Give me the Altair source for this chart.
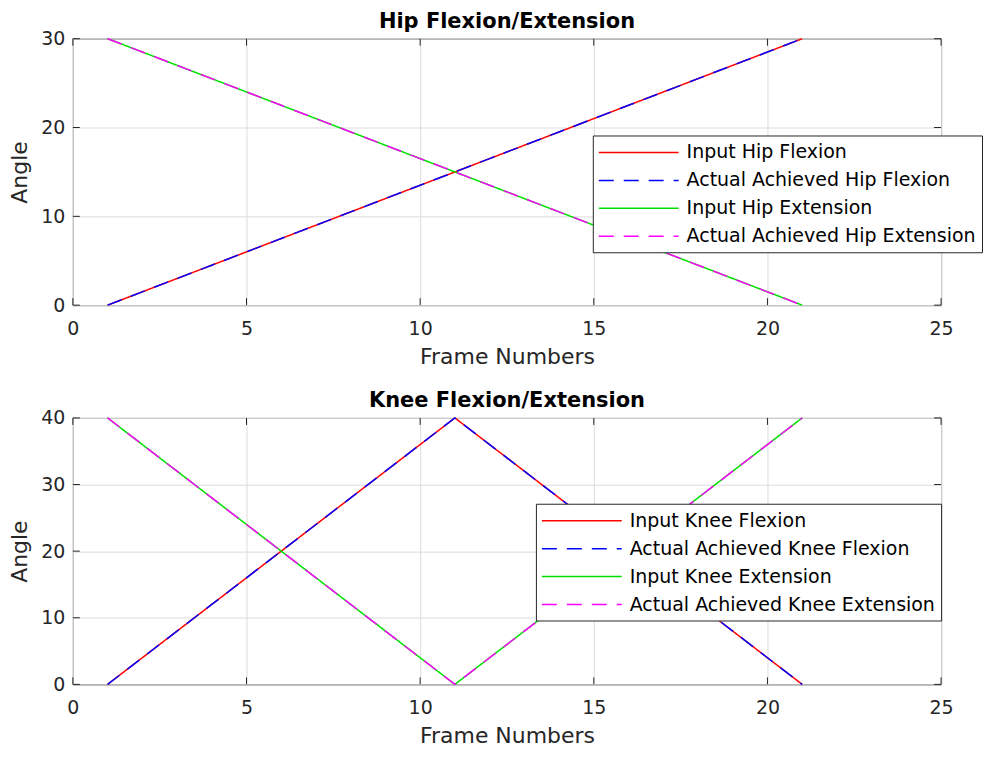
import altair as alt
import pandas as pd

# ---------------- data ----------------
frames = [1, 2, 3, 4, 5, 6, 7, 8, 9, 10, 11, 12, 13, 14, 15, 16, 17, 18, 19, 20, 21]

hip_flex_input = [0, 1.5, 3, 4.5, 6, 7.5, 9, 10.5, 12, 13.5, 15, 16.5, 18, 19.5, 21, 22.5, 24, 25.5, 27, 28.5, 30]
hip_flex_actual = [0, 1.5, 3, 4.5, 6, 7.5, 9, 10.5, 12, 13.5, 15, 16.5, 18, 19.5, 21, 22.5, 24, 25.5, 27, 28.5, 30]
hip_ext_input = [30, 28.5, 27, 25.5, 24, 22.5, 21, 19.5, 18, 16.5, 15, 13.5, 12, 10.5, 9, 7.5, 6, 4.5, 3, 1.5, 0]
hip_ext_actual = [30, 28.5, 27, 25.5, 24, 22.5, 21, 19.5, 18, 16.5, 15, 13.5, 12, 10.5, 9, 7.5, 6, 4.5, 3, 1.5, 0]

knee_flex_input = [0, 4, 8, 12, 16, 20, 24, 28, 32, 36, 40, 36, 32, 28, 24, 20, 16, 12, 8, 4, 0]
knee_flex_actual = [0, 4, 8, 12, 16, 20, 24, 28, 32, 36, 40, 36, 32, 28, 24, 20, 16, 12, 8, 4, 0]
knee_ext_input = [40, 36, 32, 28, 24, 20, 16, 12, 8, 4, 0, 4, 8, 12, 16, 20, 24, 28, 32, 36, 40]
knee_ext_actual = [40, 36, 32, 28, 24, 20, 16, 12, 8, 4, 0, 4, 8, 12, 16, 20, 24, 28, 32, 36, 40]

hip_labels = ["Input Hip Flexion", "Actual Achieved Hip Flexion",
              "Input Hip Extension", "Actual Achieved Hip Extension"]
knee_labels = ["Input Knee Flexion", "Actual Achieved Knee Flexion",
               "Input Knee Extension", "Actual Achieved Knee Extension"]

x_ticks = [0, 5, 10, 15, 20, 25]
hip_y_ticks = [0, 10, 20, 30]
knee_y_ticks = [0, 10, 20, 30, 40]

series_colors = ["#ff0000", "#0000ff", "#00e000", "#ff00ff"]
series_dashes = [[1, 0], [15, 10], [1, 0], [15, 10]]

FONT = "DejaVu Sans"
AXIS_COL = "#262626"
W, H = 870, 267


def long_table(labels, series):
    rows = []
    for lab, vals in zip(labels, series):
        for f, v in zip(frames, vals):
            rows.append({"frame": f, "angle": v, "series": lab})
    return pd.DataFrame(rows)


def panel(labels, series, title, ymax, yticks, lx, ly):
    df = long_table(labels, series)
    xenc = alt.X("frame:Q", scale=alt.Scale(domain=[0, 25], nice=False, zero=False),
                 axis=alt.Axis(values=x_ticks, title="Frame Numbers"))
    yenc = alt.Y("angle:Q", scale=alt.Scale(domain=[0, ymax], nice=False),
                 axis=alt.Axis(values=yticks, title="Angle"))
    leg = alt.Legend(orient="none", legendX=lx, legendY=ly)
    lines = alt.Chart(df).mark_line(strokeWidth=1.5).encode(
        x=xenc, y=yenc,
        color=alt.Color("series:N", scale=alt.Scale(domain=labels, range=series_colors),
                        legend=leg, title=None),
        strokeDash=alt.StrokeDash("series:N", scale=alt.Scale(domain=labels, range=series_dashes),
                                  legend=leg, title=None),
    )
    xt = pd.DataFrame({"frame": x_ticks})
    yt = pd.DataFrame({"angle": yticks})
    xb = alt.Chart(xt).mark_rule(color=AXIS_COL, strokeWidth=1).encode(
        x=xenc, y=alt.value(H), y2=alt.value(H - 7))
    xtop = alt.Chart(xt).mark_rule(color=AXIS_COL, strokeWidth=1).encode(
        x=xenc, y=alt.value(0), y2=alt.value(7))
    yl = alt.Chart(yt).mark_rule(color=AXIS_COL, strokeWidth=1).encode(
        y=yenc, x=alt.value(0), x2=alt.value(7))
    yr = alt.Chart(yt).mark_rule(color=AXIS_COL, strokeWidth=1).encode(
        y=yenc, x=alt.value(W - 7), x2=alt.value(W))
    return alt.layer(lines, xb, xtop, yl, yr).properties(
        width=W, height=H,
        title=alt.TitleParams(title, anchor="middle", offset=-2, fontSize=21, frame="group",
                              font=FONT, fontWeight="bold", color="#000000"),
    )


top = panel(hip_labels, [hip_flex_input, hip_flex_actual, hip_ext_input, hip_ext_actual],
            "Hip Flexion/Extension", 30, hip_y_ticks, 521, 97)
bottom = panel(knee_labels, [knee_flex_input, knee_flex_actual, knee_ext_input, knee_ext_actual],
               "Knee Flexion/Extension", 40, knee_y_ticks, 464, 86)

chart = alt.vconcat(top, bottom, spacing=21).resolve_scale(
    color="independent", strokeDash="independent"
).properties(
    padding={"left": 0, "top": 1, "right": 0, "bottom": 0}
).configure_view(
    stroke=AXIS_COL, strokeWidth=1
).configure_axis(
    domain=False, ticks=False, tickSize=0, labelFlush=False,
    grid=True, gridColor="#dcdcdc", gridWidth=1,
    labelFont=FONT, labelFontSize=19, labelColor=AXIS_COL, labelPadding=14,
    titleFont=FONT, titleFontSize=22, titleFontWeight="normal", titleColor=AXIS_COL,
    titlePadding=8,
).configure_axisY(
    titlePadding=9, labelPadding=8
).configure_legend(
    fillColor="#ffffff", strokeColor=AXIS_COL, padding=6,
    symbolType="M-4,0L4,0", symbolSize=400, symbolStrokeWidth=1.5,
    symbolOffset=29, labelOffset=37,
    labelFont=FONT, labelFontSize=19, labelColor="#000000", labelLimit=500,
    rowPadding=7,
)

chart.save("out.html", embed_options={"renderer": "svg", "actions": False})
